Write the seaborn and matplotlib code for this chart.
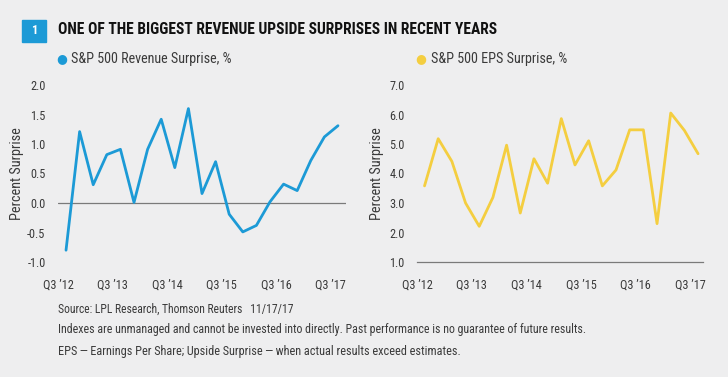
import numpy as np
import pandas as pd
import matplotlib
matplotlib.use('Agg')
import matplotlib.pyplot as plt
import seaborn as sns
from matplotlib.patches import Rectangle
from matplotlib import font_manager

# quarters Q3 '12 .. Q3 '17
quarters = ['Q3 \u201912', 'Q4 \u201912', 'Q1 \u201913', 'Q2 \u201913', 'Q3 \u201913', 'Q4 \u201913',
            'Q1 \u201914', 'Q2 \u201914', 'Q3 \u201914', 'Q4 \u201914', 'Q1 \u201915', 'Q2 \u201915',
            'Q3 \u201915', 'Q4 \u201915', 'Q1 \u201916', 'Q2 \u201916', 'Q3 \u201916', 'Q4 \u201916',
            'Q1 \u201917', 'Q2 \u201917', 'Q3 \u201917']
revenue = [-0.80, 1.21, 0.31, 0.82, 0.91, 0.01, 0.91, 1.42, 0.60, 1.60, 0.16,
           0.70, -0.19, -0.49, -0.38, 0.02, 0.32, 0.21, 0.72, 1.12, 1.31]
eps = [3.58, 5.18, 4.41, 3.00, 2.21, 3.19, 4.96, 2.66, 4.50, 3.67, 5.86,
       4.29, 5.11, 3.58, 4.12, 5.48, 5.48, 2.30, 6.05, 5.46, 4.67]
tick_quarters = ['Q3 \u201912', 'Q3 \u201913', 'Q3 \u201914', 'Q3 \u201915', 'Q3 \u201916', 'Q3 \u201917']

df = pd.DataFrame({'q': np.arange(len(quarters)), 'quarter': quarters,
                   'revenue': revenue, 'eps': eps})

BG = '#eeeeef'
BLUE = '#1c9ad6'
YELLOW = '#f4ce40'
TXT = '#3a3a3a'

# pick a narrow font if one is installed
fams = {f.name for f in font_manager.fontManager.ttflist}
stretch = 'normal'
if 'Liberation Sans Narrow' in fams:
    FONT = 'Liberation Sans Narrow'
elif 'Roboto Condensed' in fams:
    FONT = 'Roboto Condensed'
elif any(f.name == 'DejaVu Sans' and f.stretch == 'condensed' for f in font_manager.fontManager.ttflist):
    FONT, stretch = 'DejaVu Sans', 'condensed'
else:
    FONT = 'Liberation Sans'

sns.set_style('white')
plt.rcParams['font.family'] = [FONT, 'DejaVu Sans']
plt.rcParams['font.stretch'] = stretch
plt.rcParams['axes.facecolor'] = BG

fig = plt.figure(figsize=(7.28, 3.77), dpi=100, facecolor=BG)


def fit(t, width_px, size):
    # shrink a text until it is no wider than the reference one
    r = fig.canvas.get_renderer()
    t.set_fontsize(size)
    while t.get_window_extent(r).width > width_px and size > 5:
        size -= 0.1
        t.set_fontsize(size)
    return size


# title block
fig.patches.append(Rectangle((22 / 728, 1 - 42 / 377), 24 / 728, 22 / 377,
                             transform=fig.transFigure, color=BLUE, zorder=0))
fig.text(34 / 728, 1 - 31 / 377, '1', color='white', fontsize=9, fontweight='bold',
         ha='center', va='center')
title = fig.text(58 / 728, 1 - 30 / 377, 'ONE OF THE BIGGEST REVENUE UPSIDE SURPRISES IN RECENT YEARS',
                 color='#111111', fontweight='bold', ha='left', va='center')
fit(title, 444, 14)

# legends
fig.text(62 / 728, 1 - 59 / 377, '\u25CF', color=BLUE, fontsize=9, ha='center', va='center',
         family='DejaVu Sans', stretch='normal')
lsize = fit(fig.text(71 / 728, 1 - 59 / 377, 'S&P 500 Revenue Surprise, %', color=TXT,
                     ha='left', va='center'), 161, 12)
fig.text(421 / 728, 1 - 59 / 377, '\u25CF', color=YELLOW, fontsize=9, ha='center', va='center',
         family='DejaVu Sans', stretch='normal')
fig.text(431 / 728, 1 - 59 / 377, 'S&P 500 EPS Surprise, %', color=TXT, fontsize=lsize,
         ha='left', va='center')

tick_pos = [quarters.index(t) - 0.55 for t in tick_quarters]

# left chart: revenue
ax1 = fig.add_axes([58 / 728, 1 - 262 / 377, 288 / 728, 177 / 377])
sns.lineplot(data=df, x='q', y='revenue', ax=ax1, color=BLUE, linewidth=2.0)
ax1.axhline(0, color='#7a7a7a', linewidth=0.9, zorder=0)
ax1.set_ylim(-1.0, 2.0)
ax1.set_xlim(-0.59, 20.59)
ax1.set_yticks(np.arange(-1.0, 2.01, 0.5))
ax1.set_yticklabels([f'{v:.1f}' for v in np.arange(-1.0, 2.01, 0.5)])

# right chart: EPS
ax2 = fig.add_axes([417 / 728, 1 - 262 / 377, 286 / 728, 177 / 377])
sns.lineplot(data=df, x='q', y='eps', ax=ax2, color=YELLOW, linewidth=2.0)
ax2.set_ylim(1.0, 7.0)
ax2.set_xlim(-0.44, 20.36)
ax2.set_yticks(np.arange(1.0, 7.01, 1.0))
ax2.set_yticklabels([f'{v:.1f}' for v in np.arange(1.0, 7.01, 1.0)])

for ax in (ax1, ax2):
    ax.set_xticks(tick_pos)
    ax.set_xticklabels(tick_quarters)
    ax.set_xlabel('')
    ax.set_ylabel('Percent Surprise', color=TXT, fontsize=10.3)
    ax.tick_params(axis='both', length=0, labelsize=8.8, colors=TXT)
    ax.tick_params(axis='x', pad=12)
    ax.tick_params(axis='y', pad=9)
    for s in ('top', 'right', 'left', 'bottom'):
        ax.spines[s].set_visible(False)
ax1.yaxis.set_label_coords(-34 / 288, 0.5)
ax2.yaxis.set_label_coords(-33 / 286, 0.5)
ax2.spines['bottom'].set_visible(True)
ax2.spines['bottom'].set_color('#7a7a7a')
ax2.spines['bottom'].set_linewidth(0.9)

# footnotes
notes = ['Source: LPL Research, Thomson Reuters   11/17/17',
         'Indexes are unmanaged and cannot be invested into directly. Past performance is no guarantee of future results.',
         'EPS\u2009\u2014\u2009Earnings Per Share; Upside Surprise\u2009\u2014\u2009when actual results exceed estimates.']
note_w = [238, 534, 404]
for i, (n, w) in enumerate(zip(notes, note_w)):
    fit(fig.text(58 / 728, 1 - (309 + 21 * i) / 377, n, color=TXT, ha='left', va='center'), w, 10)

fig.savefig('out.png', dpi=100, facecolor=BG)
